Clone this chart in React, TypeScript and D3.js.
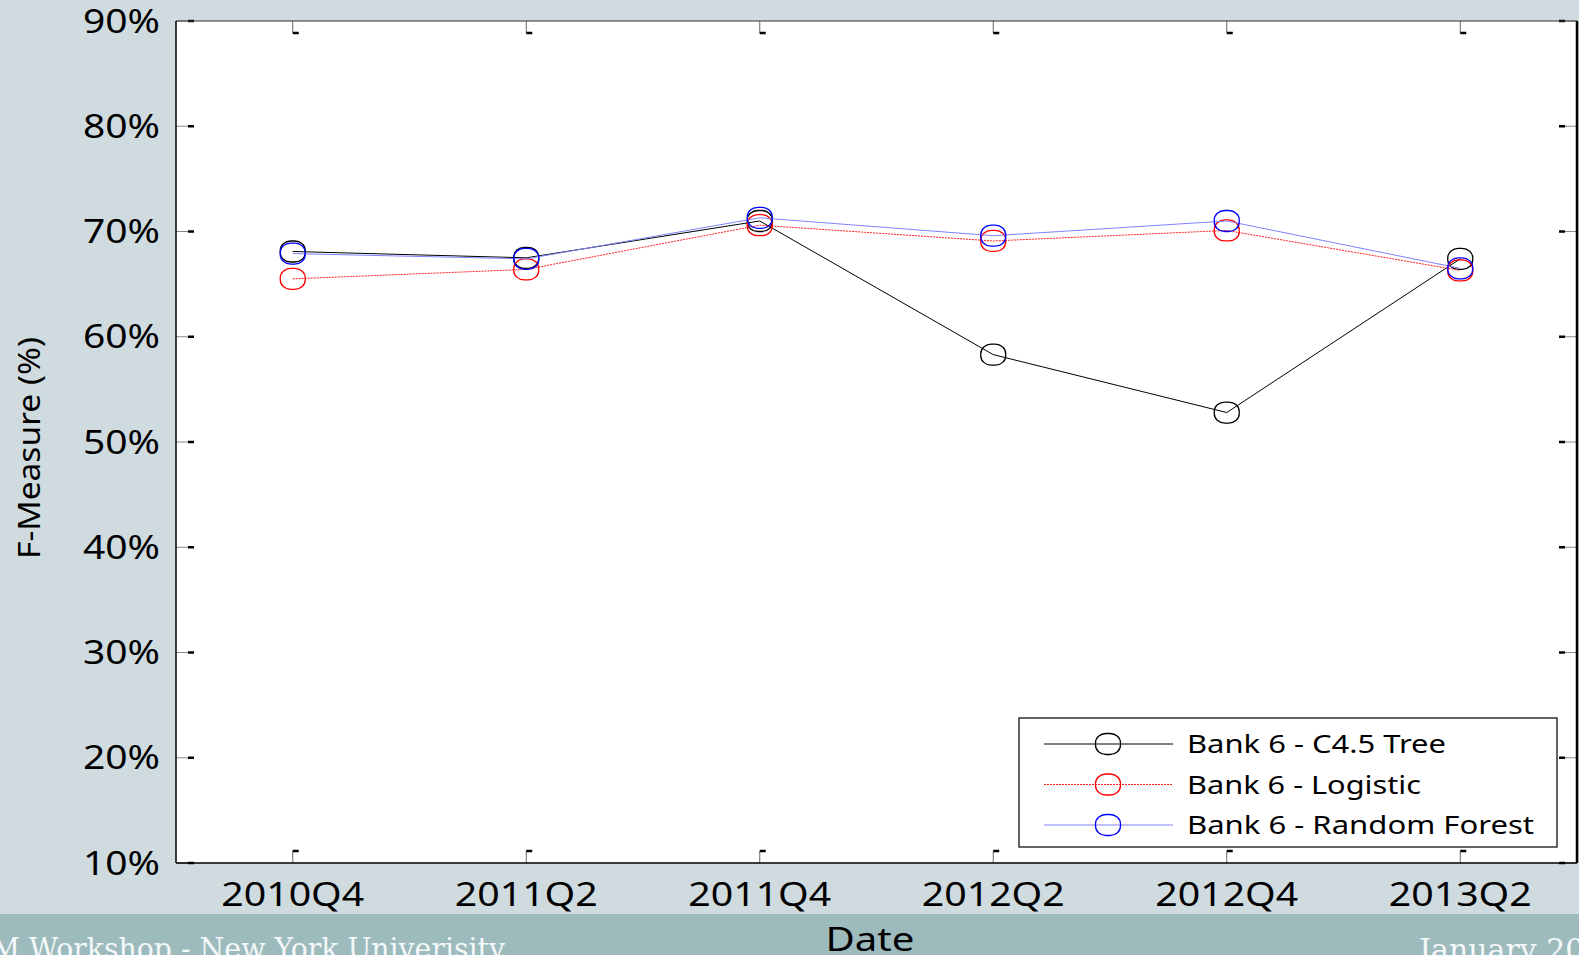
import React from "react";
import * as d3 from "d3";

const categories = ["2010Q4", "2011Q2", "2011Q4", "2012Q2", "2012Q4", "2013Q2"];
const c45Values = [68.1, 67.5, 71.0, 58.3, 52.8, 67.4];
const logisticValues = [65.5, 66.4, 70.6, 69.1, 70.1, 66.3];
const rfValues = [67.9, 67.4, 71.3, 69.6, 71.0, 66.5];
const yTicks = [10, 20, 30, 40, 50, 60, 70, 80, 90];
const seriesNames = ["Bank 6 - C4.5 Tree", "Bank 6 - Logistic", "Bank 6 - Random Forest"];

const W = 1579;
const H = 955;
const L = 176, R = 1577, T = 21, B = 863;

export default function App() {
  const x = d3.scalePoint<string>().domain(categories).range([L, R]).padding(0.5);
  const y = d3.scaleLinear().domain([10, 90]).range([B, T]);
  const line = d3.line<number>().x((_, i) => x(categories[i]) as number).y((d) => y(d));

  const series = [
    { name: seriesNames[0], values: c45Values, color: "#000000", lineColor: "#000000", dash: undefined as string | undefined, width: 1 },
    { name: seriesNames[1], values: logisticValues, color: "#ff0000", lineColor: "#ff2020", dash: "2,1", width: 1 },
    { name: seriesNames[2], values: rfValues, color: "#0000ff", lineColor: "#8080ff", dash: undefined, width: 1 },
  ];
  const legendWidths = [259, 234, 347];

  const marker = (cx: number, cy: number, color: string, key: string) => (
    <rect key={key} x={cx - 12.5} y={cy - 10.5} width={25} height={21} rx={10.5} ry={9.5}
      fill="none" stroke={color} strokeWidth={1.3} />
  );

  return (
    <div style={{ position: "fixed", left: 0, top: 0, width: W, height: H, overflow: "hidden" }}>
      <svg width={W} height={H} style={{ display: "block" }}>
        <rect x={0} y={0} width={W} height={H} fill="#cfdbdf" />
        <rect x={0} y={914} width={W} height={H - 914} fill="#9dbbbd" />
        <text x={-9} y={959} fontFamily="'DejaVu Serif', serif" fontSize={29} fill="#f4f8f8"
          textLength={514} lengthAdjust="spacingAndGlyphs">M Workshop - New York Univerisity</text>
        <text x={1419} y={960} fontFamily="'DejaVu Serif', serif" fontSize={30} fill="#f4f8f8">January 2014</text>

        <rect x={L} y={T} width={R - L} height={B - T} fill="#ffffff" />

        {/* y ticks left and right */}
        {yTicks.map((t) => (
          <g key={"yt" + t}>
            <line x1={L} x2={L + 12} y1={y(t)} y2={y(t)} stroke="#888" strokeWidth={1} />
            <line x1={L + 12} x2={L + 18} y1={y(t)} y2={y(t)} stroke="#000" strokeWidth={2.5} />
            <line x1={R - 12} x2={R} y1={y(t)} y2={y(t)} stroke="#888" strokeWidth={1} />
            <line x1={R - 18} x2={R - 12} y1={y(t)} y2={y(t)} stroke="#000" strokeWidth={2.5} />
            <text x={160} y={y(t)} dy="0.36em" textAnchor="end" fontFamily="'Noto Sans', sans-serif"
              fontSize={32} fill="#000" textLength={77} lengthAdjust="spacingAndGlyphs">{t}%</text>
          </g>
        ))}
        {/* x ticks top and bottom */}
        {categories.map((c) => {
          const cx = x(c) as number;
          return (
            <g key={"xt" + c}>
              <line x1={cx} x2={cx} y1={T} y2={T + 12} stroke="#666" strokeWidth={1} />
              <line x1={cx} x2={cx + 6} y1={T + 12} y2={T + 12} stroke="#000" strokeWidth={2.5} />
              <line x1={cx} x2={cx} y1={B} y2={B - 12} stroke="#666" strokeWidth={1} />
              <line x1={cx} x2={cx + 6} y1={B - 12} y2={B - 12} stroke="#000" strokeWidth={2.5} />
              <text x={cx} y={B + 43} textAnchor="middle" fontFamily="'Noto Sans', sans-serif"
                fontSize={33} fill="#000" textLength={143} lengthAdjust="spacingAndGlyphs">{c}</text>
            </g>
          );
        })}

        {/* frame */}
        <line x1={L} x2={R} y1={T} y2={T} stroke="#333" strokeWidth={1.2} />
        <line x1={L} x2={R} y1={B} y2={B} stroke="#000" strokeWidth={1.5} />
        <line x1={L} x2={L} y1={T} y2={B} stroke="#000" strokeWidth={1.5} />
        <line x1={R} x2={R} y1={T} y2={B} stroke="#000" strokeWidth={2.5} />

        {/* series */}
        {series.map((s) => (
          <g key={s.name}>
            <path d={line(s.values) || ""} fill="none" stroke={s.lineColor} strokeWidth={s.width}
              strokeDasharray={s.dash} />
            {s.values.map((v, i) => marker(x(categories[i]) as number, y(v), s.color, s.name + i))}
          </g>
        ))}

        {/* legend */}
        <rect x={1019} y={718} width={538} height={129} fill="#fff" stroke="#000" strokeWidth={1.2} />
        {series.map((s, i) => {
          const ly = 744 + i * 40.5;
          return (
            <g key={"lg" + i}>
              <line x1={1044} x2={1173} y1={ly} y2={ly} stroke={s.lineColor} strokeWidth={s.width}
                strokeDasharray={s.dash} />
              {marker(1108, ly, s.color, "lm" + i)}
              <text x={1187} y={ly} dy="0.36em" fontFamily="'Noto Sans', sans-serif" fontSize={25}
                fill="#000" textLength={legendWidths[i]} lengthAdjust="spacingAndGlyphs">{s.name}</text>
            </g>
          );
        })}

        {/* axis titles */}
        <text transform={`translate(40, 448) rotate(-90)`} textAnchor="middle" fontFamily="'Noto Sans', sans-serif"
          fontSize={31} fill="#000" textLength={222} lengthAdjust="spacingAndGlyphs">F-Measure (%)</text>
        <text x={870} y={951} textAnchor="middle" fontFamily="'Noto Sans', sans-serif" fontSize={33}
          fill="#000" textLength={89} lengthAdjust="spacingAndGlyphs">Date</text>
      </svg>
    </div>
  );
}
